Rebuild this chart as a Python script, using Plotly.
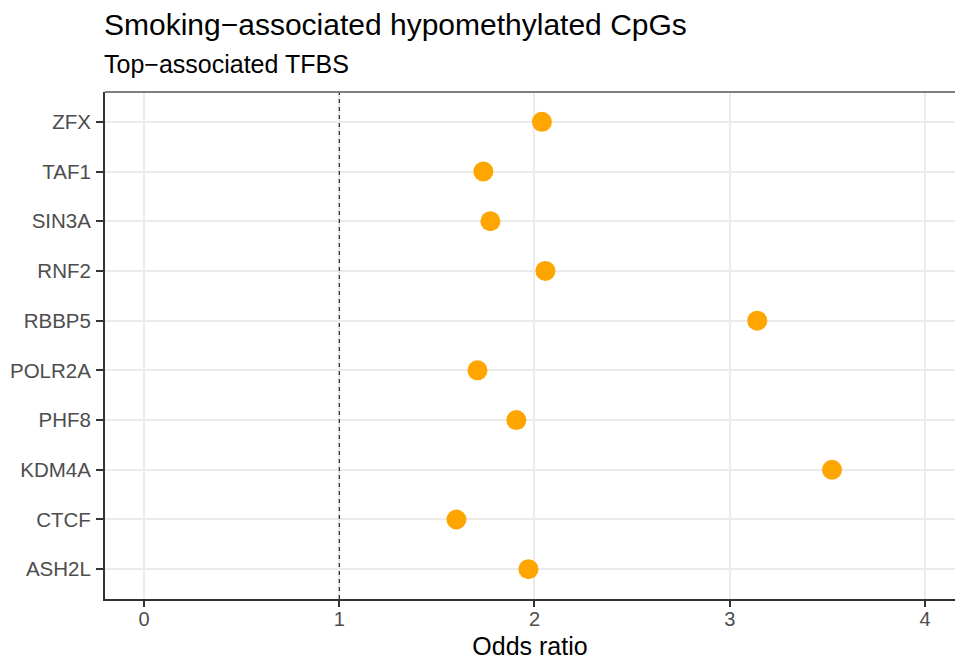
import plotly.graph_objects as go

tfbs = ["ASH2L", "CTCF", "KDM4A", "PHF8", "POLR2A", "RBBP5", "RNF2", "SIN3A", "TAF1", "ZFX"]
odds_ratio = [1.969, 1.600, 3.524, 1.907, 1.708, 3.141, 2.056, 1.774, 1.738, 2.038]
x_ticks = [0, 1, 2, 3, 4]
ref_line = 1

FONT = "Liberation Sans, Arial, sans-serif"

fig = go.Figure()
fig.add_trace(go.Scatter(
    x=odds_ratio, y=tfbs, mode="markers",
    marker=dict(color="#FFA500", size=20, line=dict(width=0)),
    showlegend=False, hoverinfo="x+y",
))

fig.add_shape(type="line", xref="x", yref="paper", x0=ref_line, x1=ref_line, y0=0, y1=1,
              line=dict(color="black", width=1, dash="4px,4px"), layer="above")
# top panel border
fig.add_shape(type="line", xref="paper", yref="paper", x0=0, x1=1, y0=1, y1=1,
              line=dict(color="#7F7F7F", width=2))

fig.update_layout(
    width=955, height=662,
    margin=dict(l=105, r=0, t=92, b=63),
    paper_bgcolor="white", plot_bgcolor="white",
    font=dict(family=FONT, color="#4D4D4D", size=20),
    xaxis=dict(
        range=[-0.2, 4.154], tickvals=x_ticks, ticktext=[str(v) for v in x_ticks],
        showgrid=True, gridcolor="#EBEBEB", gridwidth=2, zeroline=False,
        showline=True, linecolor="#333333", linewidth=2,
        ticks="outside", ticklen=6, tickwidth=2, tickcolor="#333333",
        tickfont=dict(size=20, color="#4D4D4D"), ticklabelstandoff=-5,
        title=dict(text="Odds ratio", font=dict(size=25, color="black"), standoff=8),
    ),
    yaxis=dict(
        type="category", categoryorder="array", categoryarray=tfbs,
        range=[-0.6, 9.6],
        showgrid=True, gridcolor="#EBEBEB", gridwidth=2, zeroline=False,
        showline=True, linecolor="#333333", linewidth=2,
        ticks="outside", ticklen=7, tickwidth=2, tickcolor="#333333",
        tickfont=dict(size=20.5, color="#4D4D4D"), ticklabelstandoff=1,
    ),
    annotations=[
        dict(text="Smoking−associated hypomethylated CpGs", xref="paper", yref="paper",
             x=0, y=1, xanchor="left", yanchor="middle", yshift=92 - 24, xshift=-3,
             showarrow=False, font=dict(size=30, color="black", family=FONT)),
        dict(text="Top−associated TFBS", xref="paper", yref="paper",
             x=0, y=1, xanchor="left", yanchor="middle", yshift=92 - 64, xshift=-3,
             showarrow=False, font=dict(size=25, color="black", family=FONT)),
    ],
)

fig.write_html("out.html")
